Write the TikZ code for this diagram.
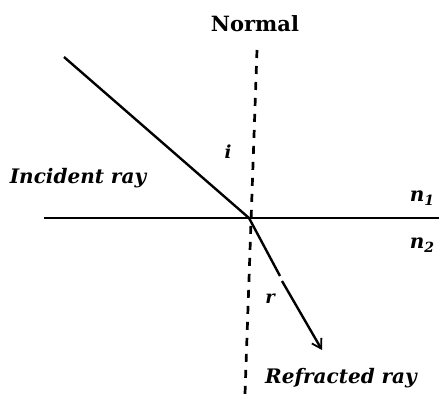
\documentclass[tikz,border=0pt]{standalone}
\usepackage{fontspec}
\setmainfont{DejaVu Serif}
\usepackage{tikz}
\usetikzlibrary{arrows.meta}
\tikzset{
    lab/.style={
        font=\bfseries\itshape\fontsize{20}{24}\selectfont, inner sep=0pt, anchor=base
    },
    ttl/.style={
        font=\bfseries\fontsize{21}{25}\selectfont, inner sep=0pt, anchor=base
    },
    ray/.style={line width=2.4pt},
    normalline/.style={line width=2.7pt, dash pattern=on 8pt off 8pt}
}
\newcommand{\idxlab}[2]{#1{\fontsize{14}{14}\selectfont\raisebox{-4pt}{#2}}}

\begin{document}
\begin{tikzpicture}[x=1pt,y=-1pt, line cap=butt, line join=round]

\useasboundingbox (0,0) rectangle (439,394);

% points
\coordinate (O) at (249,218);
\coordinate (inc0) at (64,57);
\coordinate (surfL) at (44,218);
\coordinate (surfR) at (439,218);
\coordinate (nTop) at (257,50);
\coordinate (nBot) at (245,394);
\coordinate (refA) at (280,276);
\coordinate (refB) at (282,281);
\coordinate (refEnd) at (322,350);

% surface and normal
\draw[ray] (surfL) -- (surfR);
\draw[normalline] (nTop) -- (nBot);

% incident ray
\draw[ray] (inc0) -- (O);

% refracted ray
\draw[ray] (O) -- (refA);
\draw[ray, -{Straight Barb[length=9pt, width=11pt, line width=1.8pt]}] (refB) -- (refEnd);

\node[ttl] (normal) at (255,31) {Normal};
\node[lab] (incident) at (78,183) {Incident ray};
\node[lab, font=\bfseries\itshape\fontsize{18}{20}\selectfont] (angi) at (228,158) {i};
\node[lab, font=\bfseries\itshape\fontsize{18}{20}\selectfont] (angr) at (270,303) {r};
\node[lab] (refracted) at (341,383) {Refracted ray};
\node[lab] (n1) at (422,201) {\idxlab{n}{1}};
\node[lab] (n2) at (422,248) {\idxlab{n}{2}};

\end{tikzpicture}
\end{document}
